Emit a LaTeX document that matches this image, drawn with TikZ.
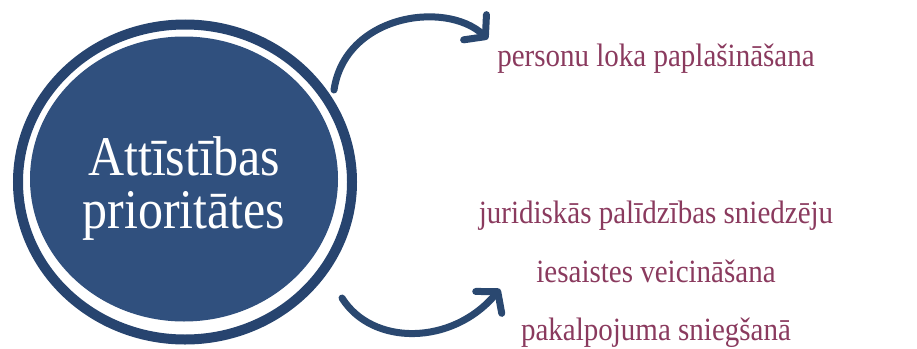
\documentclass[tikz,border=0pt]{standalone}
\usepackage{fontspec}
\setmainfont{Liberation Serif}
\usetikzlibrary{shapes.geometric,arrows.meta}
\definecolor{ringblue}{HTML}{27446F}
\definecolor{fillblue}{HTML}{30507E}
\definecolor{arrowblue}{HTML}{2A4870}
\definecolor{maroon}{HTML}{8A3A5E}
\newcommand{\tallify}[1]{\scalebox{1}[1.12]{#1}}
\tikzset{
  ringstyle/.style={ellipse, draw=ringblue, line width=10pt, inner sep=0pt},
  diskstyle/.style={ellipse, fill=fillblue, inner sep=0pt},
  hubtext/.style={text=white, font=\fontsize{50}{50}\selectfont, anchor=base, inner sep=0pt},
  leaftext/.style={text=maroon, font=\fontsize{29}{29}\selectfont, anchor=base, inner sep=0pt},
  flow/.style={draw=arrowblue, line width=7pt, line cap=round,
    -{Straight Barb[length=14pt,width=34pt,line cap=round,round]}},
}
\begin{document}
\begin{tikzpicture}[x=1pt,y=-1pt]
\useasboundingbox (0,0) rectangle (917,348);
\node[ringstyle, minimum width=334pt, minimum height=315pt] (ring) at (185,182) {};
\node[diskstyle, minimum width=308pt, minimum height=285pt] (disk) at (184,179) {};
\node[hubtext] (h1) at (184,175) {\tallify{Attīstības}};
\node[hubtext] (h2) at (184,228) {\tallify{prioritātes}};
\node[leaftext] (t1) at (656,66) {\tallify{personu loka paplašināšana}};
\node[leaftext] (t2) at (656,223) {\tallify{juridiskās palīdzības sniedzēju}};
\node[leaftext] (t3) at (656,282) {\tallify{iesaistes veicināšana}};
\node[leaftext] (t4) at (656,340) {\tallify{pakalpojuma sniegšanā}};
\coordinate (s1) at (334,90);
\coordinate (e1) at (488,39);
\coordinate (s2) at (342,298);
\coordinate (e2) at (500,289);
\draw[flow] (s1) .. controls (345,15) and (445,0) .. (e1);
\draw[flow] (s2) .. controls (372,346) and (452,346) .. (e2);
\end{tikzpicture}
\end{document}
